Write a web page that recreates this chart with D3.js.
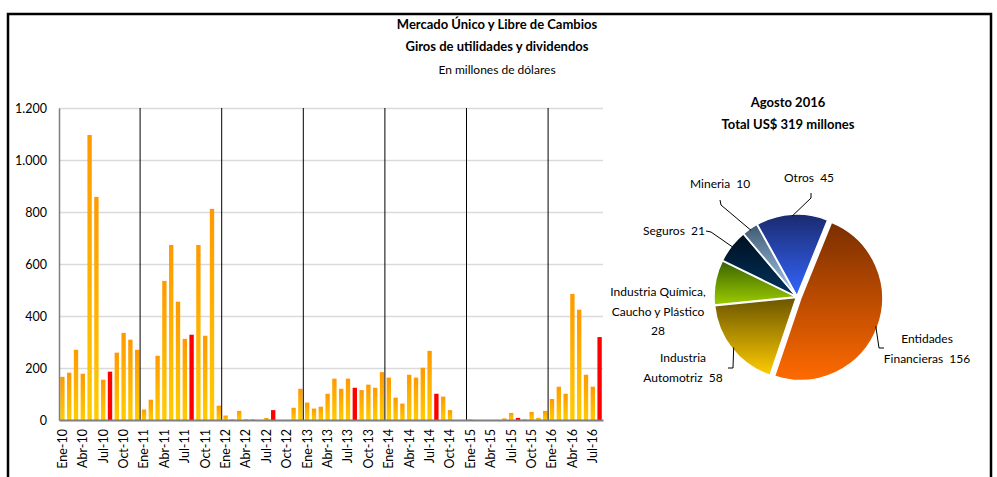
<!DOCTYPE html>
<html>
<head>
<meta charset="utf-8">
<script src="https://cdn.jsdelivr.net/npm/d3@7"></script>
<style>
  body { margin: 0; background: #fff; }
  svg { display: block; font-family: Lato, "Open Sans", sans-serif; }
</style>
</head>
<body>
<div id="chart"></div>
<script>
// Monthly categories
const meses = ["Ene", "Feb", "Mar", "Abr", "May", "Jun", "Jul", "Ago", "Sep", "Oct", "Nov", "Dic"];
const anios = ["10", "11", "12", "13", "14", "15", "16"];

// Giros de utilidades y dividendos, millones de US$
const giros2010 = [166, 182, 270, 178, 1096, 858, 155, 186, 259, 335, 309, 270];
const giros2011 = [40, 78, 247, 535, 673, 455, 312, 328, 673, 324, 812, 55];
const giros2012 = [17, 3, 35, 3, 3, 0, 8, 38, 0, 0, 47, 120];
const giros2013 = [67, 44, 51, 101, 159, 120, 159, 124, 115, 136, 124, 184];
const giros2014 = [163, 86, 63, 174, 163, 201, 266, 101, 90, 38, 0, 0];
const giros2015 = [2, 0, 0, 0, 0, 6, 27, 8, 3, 31, 8, 35];
const giros2016 = [81, 128, 101, 485, 424, 174, 128, 319];

const yTicks = [0, 200, 400, 600, 800, 1000, 1200];

// Pie: Agosto 2016
const sectores = ["Entidades Financieras", "Industria Automotriz", "Industria Química, Caucho y Plástico", "Seguros", "Mineria", "Otros"];
const sectorValores = [156, 58, 28, 21, 10, 45];

const serie = [giros2010, giros2011, giros2012, giros2013, giros2014, giros2015, giros2016];
const data = [];
serie.forEach((vals, yi) => {
    vals.forEach((v, mi) => {
        data.push({ label: `${meses[mi]}-${anios[yi]}`, mes: mi, value: v });
    });
});

const width = 997, height = 477;
const svg = d3.select("#chart").append("svg")
    .attr("width", width)
    .attr("height", height);

const defs = svg.append("defs");

// frame
svg.append("rect")
    .attr("x", 8).attr("y", 14)
    .attr("width", 983).attr("height", 520)
    .attr("fill", "none")
    .attr("stroke", "#000")
    .attr("stroke-width", 2.5);

// -------- Titles --------
const titles = svg.append("g").attr("text-anchor", "middle").attr("fill", "#000");
titles.append("text").attr("x", 497).attr("y", 29)
    .attr("font-size", 13).attr("font-weight", "bold")
    .text("Mercado Único y Libre de Cambios");
titles.append("text").attr("x", 497).attr("y", 51)
    .attr("font-size", 13).attr("font-weight", "bold")
    .text("Giros de utilidades y dividendos");
titles.append("text").attr("x", 497).attr("y", 74)
    .attr("font-size", 12)
    .text("En millones de dólares");

// -------- Bar chart --------
const plot = { left: 59, right: 603, top: 108, bottom: 420 };

const x = d3.scaleBand()
    .domain(data.map(d => d.label))
    .range([plot.left, plot.right])
    .paddingInner(0.36)
    .paddingOuter(0.18);

const y = d3.scaleLinear()
    .domain([0, 1200])
    .range([plot.bottom, plot.top]);

const es = d3.formatLocale({ decimal: ",", thousands: ".", grouping: [3], currency: ["$", ""] });

// gridlines
svg.append("g")
    .attr("transform", `translate(${plot.left},0)`)
    .call(d3.axisLeft(y).tickValues(yTicks.slice(1)).tickSize(-(plot.right - plot.left)).tickFormat(""))
    .call(g => g.select(".domain").remove())
    .call(g => g.selectAll("line").attr("stroke", "#dadada").attr("stroke-width", 1.5));

// bar gradient
const barGrad = defs.append("linearGradient")
    .attr("id", "barGrad")
    .attr("x1", 0).attr("y1", 0).attr("x2", 0).attr("y2", 1);
barGrad.append("stop").attr("offset", "0%").attr("stop-color", "#ff9900");
barGrad.append("stop").attr("offset", "100%").attr("stop-color", "#ffcc00");

svg.append("g")
    .selectAll("rect")
    .data(data.filter(d => d.value > 0))
    .join("rect")
    .attr("x", d => x(d.label))
    .attr("y", d => y(d.value))
    .attr("width", x.bandwidth())
    .attr("height", d => y(0) - y(d.value))
    .attr("fill", d => d.mes === 7 ? "#ff0000" : "url(#barGrad)");

// year separators
const stepX = x.step();
svg.append("g")
    .selectAll("line")
    .data(data.filter(d => d.mes === 0 && d.label !== "Ene-10"))
    .join("line")
    .attr("x1", d => x(d.label) - x.paddingInner() * stepX / 2 - 0.5)
    .attr("x2", d => x(d.label) - x.paddingInner() * stepX / 2 - 0.5)
    .attr("y1", plot.top)
    .attr("y2", plot.bottom)
    .attr("stroke", "#000")
    .attr("stroke-width", 1);

// Y axis
svg.append("g")
    .attr("transform", `translate(${plot.left},0)`)
    .call(d3.axisLeft(y).tickValues(yTicks).tickSize(0).tickPadding(12).tickFormat(es.format(",")))
    .call(g => g.select(".domain").attr("stroke", "#7f7f7f").attr("stroke-width", 1.5))
    .call(g => g.selectAll("text").attr("font-size", 12.5).attr("fill", "#000").attr("font-family", "Lato, sans-serif"));

// X axis
svg.append("g")
    .attr("transform", `translate(0,${plot.bottom})`)
    .call(d3.axisBottom(x).tickValues(data.filter((d, i) => i % 3 === 0).map(d => d.label)).tickSize(0))
    .call(g => g.select(".domain").attr("stroke", "#7f7f7f").attr("stroke-width", 2))
    .call(g => g.selectAll("text")
        .attr("font-size", 12.5)
        .attr("fill", "#000")
        .attr("font-family", "Lato, sans-serif")
        .attr("text-anchor", "end")
        .attr("transform", "rotate(-90)")
        .attr("x", -9)
        .attr("y", 0)
        .attr("dy", "0.35em"));

// -------- Pie chart --------
const cx = 797, cy = 297, r = 82;
const pieTitle = svg.append("g").attr("text-anchor", "middle").attr("font-weight", "bold").attr("font-size", 13);
pieTitle.append("text").attr("x", 788).attr("y", 107).text("Agosto 2016");
pieTitle.append("text").attr("x", 788).attr("y", 129).text(`Total US$ 319 millones`);

const pieColors = [
    ["#7a2e00", "#ff6a00"],
    ["#6b5500", "#ffcc00"],
    ["#3a6200", "#9ccc00"],
    ["#00101f", "#00335f"],
    ["#3f5870", "#a6cff5"],
    ["#1b2a6e", "#3366ff"]
];
pieColors.forEach((c, i) => {
    const g = defs.append("linearGradient")
        .attr("id", `pieGrad${i}`)
        .attr("x1", 0).attr("y1", 0).attr("x2", 0).attr("y2", 1);
    g.append("stop").attr("offset", "0%").attr("stop-color", c[0]);
    g.append("stop").attr("offset", "100%").attr("stop-color", c[1]);
});

const pie = d3.pie().sort(null).value(d => d.value)
    .startAngle(22 * Math.PI / 180)
    .endAngle(22 * Math.PI / 180 + 2 * Math.PI);
const arcs = pie(sectores.map((s, i) => ({ name: s, value: sectorValores[i] })));
const arc = d3.arc().innerRadius(0).outerRadius(r);
const explode = [4, 1, 1, 1, 1, 1];

const pieG = svg.append("g").attr("transform", `translate(${cx},${cy})`);
pieG.selectAll("path")
    .data(arcs)
    .join("path")
    .attr("transform", (d, i) => {
        const a = (d.startAngle + d.endAngle) / 2;
        return `translate(${Math.sin(a) * explode[i]},${-Math.cos(a) * explode[i]})`;
    })
    .attr("d", arc)
    .attr("fill", (d, i) => `url(#pieGrad${i})`)
    .attr("stroke", "#fff")
    .attr("stroke-width", 1.5);

// labels (hand placed like the original)
const sp = "\u00a0 ";
const pieLabels = [
    { lines: ["Entidades", `Financieras${sp}156`], x: 927, y: 343, anchor: "middle", elbow: [879, 348], end: [884, 348] },
    { lines: ["Industria", `Automotriz${sp}58`], x: 683, y: 362, anchor: "middle", elbow: [733, 368], end: [728, 368] },
    { lines: ["Industria Química,", "Caucho y Plástico", "28"], x: 658, y: 296, anchor: "middle" },
    { lines: [`Seguros${sp}21`], x: 643, y: 235, anchor: "start", elbow: [711, 232], end: [706, 231] },
    { lines: [`Mineria${sp}10`], x: 690, y: 188, anchor: "start", elbow: [721, 205], end: [720, 200] },
    { lines: [`Otros${sp}45`], x: 784, y: 182, anchor: "start", elbow: [811, 198], end: [811, 193] }
];

const labelG = svg.append("g").attr("font-size", 12).attr("fill", "#000");
arcs.forEach((d, i) => {
    const lab = pieLabels[i];
    const t = labelG.append("text").attr("x", lab.x).attr("y", lab.y).attr("text-anchor", lab.anchor);
    lab.lines.forEach((ln, k) => {
        t.append("tspan").attr("x", lab.x).attr("dy", k === 0 ? 0 : 19.5).text(ln);
    });
    if (lab.elbow) {
        const a = (d.startAngle + d.endAngle) / 2;
        const rr = r + explode[i] - 2;
        const p0 = [cx + Math.sin(a) * rr, cy - Math.cos(a) * rr];
        labelG.append("polyline")
            .attr("points", [p0, lab.elbow, lab.end].map(p => p.join(",")).join(" "))
            .attr("fill", "none")
            .attr("stroke", "#000")
            .attr("stroke-width", 1);
    }
});
</script>
</body>
</html>
